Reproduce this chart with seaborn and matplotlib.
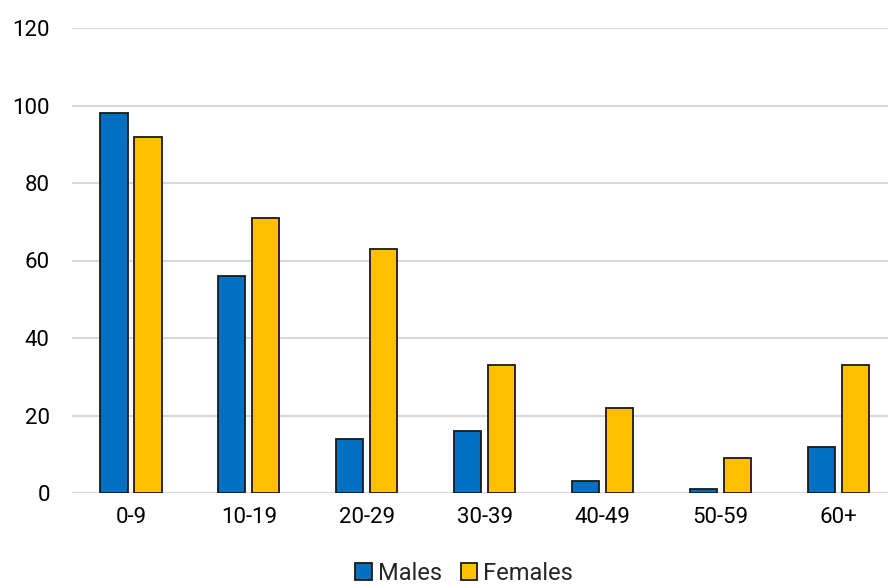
import matplotlib
matplotlib.use("Agg")
import matplotlib.pyplot as plt
import seaborn as sns
import pandas as pd
from matplotlib.patches import Patch

age_groups = ["0-9", "10-19", "20-29", "30-39", "40-49", "50-59", "60+"]
males = [98, 56, 14, 16, 3, 1, 12]
females = [92, 71, 63, 33, 22, 9, 33]
series_names = ["Males", "Females"]
colors = ["#0070C0", "#FFC000"]
y_ticks = [0, 20, 40, 60, 80, 100, 120]

df = pd.DataFrame({
    "age": age_groups * 2,
    "count": males + females,
    "sex": [series_names[0]] * len(age_groups) + [series_names[1]] * len(age_groups),
})

sns.set_theme(style="white")
plt.rcParams["font.family"] = ["Roboto", "DejaVu Sans"]

fig = plt.figure(figsize=(8.88, 5.84), dpi=100)
ax = fig.add_axes([72 / 888, 91 / 584, 1 - 72 / 888, (493 - 28) / 584])

sns.barplot(
    data=df, x="age", y="count", hue="sex", order=age_groups,
    hue_order=series_names, palette=colors, saturation=1, width=0.576, gap=0.2,
    edgecolor="#1a1a1a", linewidth=1.3, ax=ax, legend=False, zorder=3,
)

ax.set_ylim(0, 120)
ax.set_yticks(y_ticks)
ax.set_xlim(-0.5, 6.42)
ax.yaxis.grid(True, color="#D9D9D9", linewidth=1.5, zorder=0)
ax.set_axisbelow(True)
for s in ax.spines.values():
    s.set_visible(False)
ax.set_xlabel("")
ax.set_ylabel("")
ax.tick_params(axis="both", length=0, labelsize=16, colors="#000000")
ax.tick_params(axis="y", pad=16)
ax.tick_params(axis="x", pad=10)
for lbl in ax.get_yticklabels():
    lbl.set_horizontalalignment("right")

handles = [Patch(facecolor=c, edgecolor="#1a1a1a", linewidth=1.3, label=n)
           for c, n in zip(colors, series_names)]
fig.legend(handles=handles, loc="center", bbox_to_anchor=(464 / 888, 1 - 573 / 584),
           ncol=2, frameon=False, fontsize=17, handlelength=0.7, handleheight=0.7,
           handletextpad=0.25, columnspacing=0.8, borderaxespad=0)

fig.savefig("out.png", dpi=100)
